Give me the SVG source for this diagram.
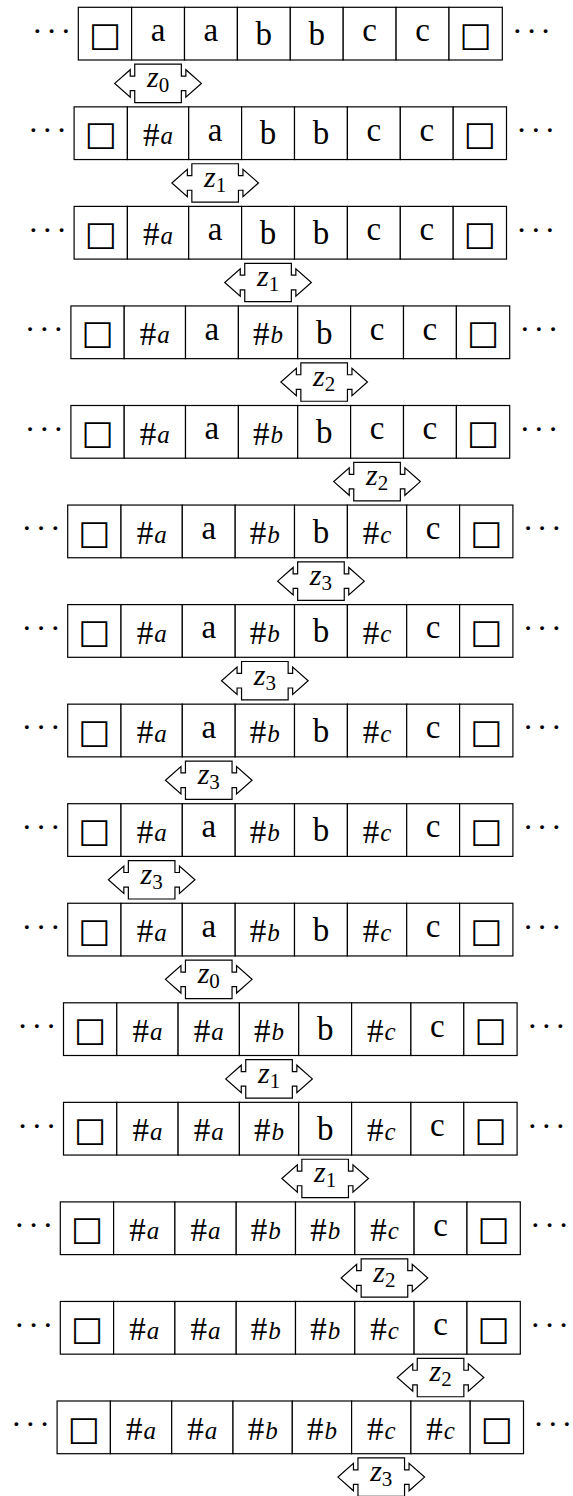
<svg xmlns="http://www.w3.org/2000/svg" xmlns:xlink="http://www.w3.org/1999/xlink" width="573" height="1496" viewBox="0 0 573 1496">
<style>
.cell{fill:#fff;stroke:#000;stroke-width:1.2}
.t{font-family:"Liberation Serif","DejaVu Serif",serif;font-size:33px;text-anchor:middle;fill:#000}
.sub{font-style:italic;font-size:25px}
.sq{font-family:"DejaVu Sans",sans-serif;font-size:34px}
.dots{font-family:"Liberation Serif","DejaVu Serif",serif;font-size:32px;fill:#000}
.lab{font-family:"Liberation Serif","DejaVu Serif",serif;font-style:italic;font-size:30px;text-anchor:middle;fill:#000}
.lsub{font-style:normal;font-size:21px}
</style>
<defs>
<!-- read/write head: box with a double arrow through its sides -->
<path id="headShape" fill="#fff" stroke="#000" stroke-width="1.2" stroke-linejoin="miter" d="M-23.3,-19.2H23.3V-7.3H27.8V-13.7L43.3,0L27.8,13.7V7.3H23.3V19.2H-23.3V7.3H-27.8V13.7L-43.3,0L-27.8,-13.7V-7.3H-23.3Z"/>
</defs>

<!-- tape 1 -->
<g id="tape-1" transform="translate(0 7.3)">
<text class="dots" x="32.1 46.3 60.5" y="34.35">···</text>
<g id="t1c1"><rect class="cell" x="78.3" y="0" width="53.3" height="52.7"/><text class="t sq" x="104.95" y="38.5">□</text></g>
<g id="t1c2"><rect class="cell" x="131.6" y="0" width="52.9" height="52.7"/><text class="t" x="158.05" y="33.75">a</text></g>
<g id="t1c3"><rect class="cell" x="184.5" y="0" width="52.9" height="52.7"/><text class="t" x="210.95" y="33.75">a</text></g>
<g id="t1c4"><rect class="cell" x="237.4" y="0" width="52.9" height="52.7"/><text class="t" x="263.85" y="37.6">b</text></g>
<g id="t1c5"><rect class="cell" x="290.3" y="0" width="52.9" height="52.7"/><text class="t" x="316.75" y="37.6">b</text></g>
<g id="t1c6"><rect class="cell" x="343.2" y="0" width="52.9" height="52.7"/><text class="t" x="369.65" y="33.75">c</text></g>
<g id="t1c7"><rect class="cell" x="396.1" y="0" width="52.9" height="52.7"/><text class="t" x="422.55" y="33.75">c</text></g>
<g id="t1c8"><rect class="cell" x="449.0" y="0" width="53.3" height="52.7"/><text class="t sq" x="475.65" y="38.5">□</text></g>
<text class="dots" x="512.1 526.2 540.3" y="34.35">···</text>
</g>

<!-- tape 2 -->
<g id="tape-2" transform="translate(0 106.85)">
<text class="dots" x="27.9 42.1 56.3" y="34.35">···</text>
<g id="t2c1"><rect class="cell" x="74.1" y="0" width="53.3" height="52.7"/><text class="t sq" x="100.75" y="38.5">□</text></g>
<g id="t2c2"><rect class="cell" x="127.4" y="0" width="61.3" height="52.7"/><text class="t" x="158.05" y="39">#<tspan class="sub" dx="1" dy="-1.5">a</tspan></text></g>
<g id="t2c3"><rect class="cell" x="188.7" y="0" width="52.9" height="52.7"/><text class="t" x="215.15" y="33.75">a</text></g>
<g id="t2c4"><rect class="cell" x="241.6" y="0" width="52.9" height="52.7"/><text class="t" x="268.05" y="37.6">b</text></g>
<g id="t2c5"><rect class="cell" x="294.5" y="0" width="52.9" height="52.7"/><text class="t" x="320.95" y="37.6">b</text></g>
<g id="t2c6"><rect class="cell" x="347.4" y="0" width="52.9" height="52.7"/><text class="t" x="373.85" y="33.75">c</text></g>
<g id="t2c7"><rect class="cell" x="400.3" y="0" width="52.9" height="52.7"/><text class="t" x="426.75" y="33.75">c</text></g>
<g id="t2c8"><rect class="cell" x="453.2" y="0" width="53.3" height="52.7"/><text class="t sq" x="479.85" y="38.5">□</text></g>
<text class="dots" x="516.3 530.4 544.5" y="34.35">···</text>
</g>

<!-- tape 3 -->
<g id="tape-3" transform="translate(0 206.4)">
<text class="dots" x="27.9 42.1 56.3" y="34.35">···</text>
<g id="t3c1"><rect class="cell" x="74.1" y="0" width="53.3" height="52.7"/><text class="t sq" x="100.75" y="38.5">□</text></g>
<g id="t3c2"><rect class="cell" x="127.4" y="0" width="61.3" height="52.7"/><text class="t" x="158.05" y="39">#<tspan class="sub" dx="1" dy="-1.5">a</tspan></text></g>
<g id="t3c3"><rect class="cell" x="188.7" y="0" width="52.9" height="52.7"/><text class="t" x="215.15" y="33.75">a</text></g>
<g id="t3c4"><rect class="cell" x="241.6" y="0" width="52.9" height="52.7"/><text class="t" x="268.05" y="37.6">b</text></g>
<g id="t3c5"><rect class="cell" x="294.5" y="0" width="52.9" height="52.7"/><text class="t" x="320.95" y="37.6">b</text></g>
<g id="t3c6"><rect class="cell" x="347.4" y="0" width="52.9" height="52.7"/><text class="t" x="373.85" y="33.75">c</text></g>
<g id="t3c7"><rect class="cell" x="400.3" y="0" width="52.9" height="52.7"/><text class="t" x="426.75" y="33.75">c</text></g>
<g id="t3c8"><rect class="cell" x="453.2" y="0" width="53.3" height="52.7"/><text class="t sq" x="479.85" y="38.5">□</text></g>
<text class="dots" x="516.3 530.4 544.5" y="34.35">···</text>
</g>

<!-- tape 4 -->
<g id="tape-4" transform="translate(0 305.95)">
<text class="dots" x="24.7 38.9 53.1" y="34.35">···</text>
<g id="t4c1"><rect class="cell" x="70.9" y="0" width="53.3" height="52.7"/><text class="t sq" x="97.55" y="38.5">□</text></g>
<g id="t4c2"><rect class="cell" x="124.2" y="0" width="61.3" height="52.7"/><text class="t" x="154.85" y="39">#<tspan class="sub" dx="1" dy="-1.5">a</tspan></text></g>
<g id="t4c3"><rect class="cell" x="185.5" y="0" width="52.9" height="52.7"/><text class="t" x="211.95" y="33.75">a</text></g>
<g id="t4c4"><rect class="cell" x="238.4" y="0" width="59.3" height="52.7"/><text class="t" x="268.05" y="39">#<tspan class="sub" dx="1" dy="-1.5">b</tspan></text></g>
<g id="t4c5"><rect class="cell" x="297.7" y="0" width="52.9" height="52.7"/><text class="t" x="324.15" y="37.6">b</text></g>
<g id="t4c6"><rect class="cell" x="350.6" y="0" width="52.9" height="52.7"/><text class="t" x="377.05" y="33.75">c</text></g>
<g id="t4c7"><rect class="cell" x="403.5" y="0" width="52.9" height="52.7"/><text class="t" x="429.95" y="33.75">c</text></g>
<g id="t4c8"><rect class="cell" x="456.4" y="0" width="53.3" height="52.7"/><text class="t sq" x="483.05" y="38.5">□</text></g>
<text class="dots" x="519.5 533.6 547.7" y="34.35">···</text>
</g>

<!-- tape 5 -->
<g id="tape-5" transform="translate(0 405.5)">
<text class="dots" x="24.7 38.9 53.1" y="34.35">···</text>
<g id="t5c1"><rect class="cell" x="70.9" y="0" width="53.3" height="52.7"/><text class="t sq" x="97.55" y="38.5">□</text></g>
<g id="t5c2"><rect class="cell" x="124.2" y="0" width="61.3" height="52.7"/><text class="t" x="154.85" y="39">#<tspan class="sub" dx="1" dy="-1.5">a</tspan></text></g>
<g id="t5c3"><rect class="cell" x="185.5" y="0" width="52.9" height="52.7"/><text class="t" x="211.95" y="33.75">a</text></g>
<g id="t5c4"><rect class="cell" x="238.4" y="0" width="59.3" height="52.7"/><text class="t" x="268.05" y="39">#<tspan class="sub" dx="1" dy="-1.5">b</tspan></text></g>
<g id="t5c5"><rect class="cell" x="297.7" y="0" width="52.9" height="52.7"/><text class="t" x="324.15" y="37.6">b</text></g>
<g id="t5c6"><rect class="cell" x="350.6" y="0" width="52.9" height="52.7"/><text class="t" x="377.05" y="33.75">c</text></g>
<g id="t5c7"><rect class="cell" x="403.5" y="0" width="52.9" height="52.7"/><text class="t" x="429.95" y="33.75">c</text></g>
<g id="t5c8"><rect class="cell" x="456.4" y="0" width="53.3" height="52.7"/><text class="t sq" x="483.05" y="38.5">□</text></g>
<text class="dots" x="519.5 533.6 547.7" y="34.35">···</text>
</g>

<!-- tapes 6 to 10 share one layout -->
<g id="tape-6" transform="translate(0 505.05)">
<text class="dots" x="21.5 35.7 49.9" y="34.35">···</text>
<g id="t6c1"><rect class="cell" x="67.7" y="0" width="53.3" height="52.7"/><text class="t sq" x="94.35" y="38.5">□</text></g>
<g id="t6c2"><rect class="cell" x="121.0" y="0" width="61.3" height="52.7"/><text class="t" x="151.65" y="39">#<tspan class="sub" dx="1" dy="-1.5">a</tspan></text></g>
<g id="t6c3"><rect class="cell" x="182.3" y="0" width="52.9" height="52.7"/><text class="t" x="208.75" y="33.75">a</text></g>
<g id="t6c4"><rect class="cell" x="235.2" y="0" width="59.3" height="52.7"/><text class="t" x="264.85" y="39">#<tspan class="sub" dx="1" dy="-1.5">b</tspan></text></g>
<g id="t6c5"><rect class="cell" x="294.5" y="0" width="52.9" height="52.7"/><text class="t" x="320.95" y="37.6">b</text></g>
<g id="t6c6"><rect class="cell" x="347.4" y="0" width="59.3" height="52.7"/><text class="t" x="377.05" y="39">#<tspan class="sub" dx="1" dy="-1.5">c</tspan></text></g>
<g id="t6c7"><rect class="cell" x="406.7" y="0" width="52.9" height="52.7"/><text class="t" x="433.15" y="33.75">c</text></g>
<g id="t6c8"><rect class="cell" x="459.6" y="0" width="53.3" height="52.7"/><text class="t sq" x="486.25" y="38.5">□</text></g>
<text class="dots" x="522.7 536.8 550.9" y="34.35">···</text>
</g>

<g id="tape-7" transform="translate(0 604.6)">
<text class="dots" x="21.5 35.7 49.9" y="34.35">···</text>
<g id="t7c1"><rect class="cell" x="67.7" y="0" width="53.3" height="52.7"/><text class="t sq" x="94.35" y="38.5">□</text></g>
<g id="t7c2"><rect class="cell" x="121.0" y="0" width="61.3" height="52.7"/><text class="t" x="151.65" y="39">#<tspan class="sub" dx="1" dy="-1.5">a</tspan></text></g>
<g id="t7c3"><rect class="cell" x="182.3" y="0" width="52.9" height="52.7"/><text class="t" x="208.75" y="33.75">a</text></g>
<g id="t7c4"><rect class="cell" x="235.2" y="0" width="59.3" height="52.7"/><text class="t" x="264.85" y="39">#<tspan class="sub" dx="1" dy="-1.5">b</tspan></text></g>
<g id="t7c5"><rect class="cell" x="294.5" y="0" width="52.9" height="52.7"/><text class="t" x="320.95" y="37.6">b</text></g>
<g id="t7c6"><rect class="cell" x="347.4" y="0" width="59.3" height="52.7"/><text class="t" x="377.05" y="39">#<tspan class="sub" dx="1" dy="-1.5">c</tspan></text></g>
<g id="t7c7"><rect class="cell" x="406.7" y="0" width="52.9" height="52.7"/><text class="t" x="433.15" y="33.75">c</text></g>
<g id="t7c8"><rect class="cell" x="459.6" y="0" width="53.3" height="52.7"/><text class="t sq" x="486.25" y="38.5">□</text></g>
<text class="dots" x="522.7 536.8 550.9" y="34.35">···</text>
</g>

<g id="tape-8" transform="translate(0 704.15)">
<text class="dots" x="21.5 35.7 49.9" y="34.35">···</text>
<g id="t8c1"><rect class="cell" x="67.7" y="0" width="53.3" height="52.7"/><text class="t sq" x="94.35" y="38.5">□</text></g>
<g id="t8c2"><rect class="cell" x="121.0" y="0" width="61.3" height="52.7"/><text class="t" x="151.65" y="39">#<tspan class="sub" dx="1" dy="-1.5">a</tspan></text></g>
<g id="t8c3"><rect class="cell" x="182.3" y="0" width="52.9" height="52.7"/><text class="t" x="208.75" y="33.75">a</text></g>
<g id="t8c4"><rect class="cell" x="235.2" y="0" width="59.3" height="52.7"/><text class="t" x="264.85" y="39">#<tspan class="sub" dx="1" dy="-1.5">b</tspan></text></g>
<g id="t8c5"><rect class="cell" x="294.5" y="0" width="52.9" height="52.7"/><text class="t" x="320.95" y="37.6">b</text></g>
<g id="t8c6"><rect class="cell" x="347.4" y="0" width="59.3" height="52.7"/><text class="t" x="377.05" y="39">#<tspan class="sub" dx="1" dy="-1.5">c</tspan></text></g>
<g id="t8c7"><rect class="cell" x="406.7" y="0" width="52.9" height="52.7"/><text class="t" x="433.15" y="33.75">c</text></g>
<g id="t8c8"><rect class="cell" x="459.6" y="0" width="53.3" height="52.7"/><text class="t sq" x="486.25" y="38.5">□</text></g>
<text class="dots" x="522.7 536.8 550.9" y="34.35">···</text>
</g>

<g id="tape-9" transform="translate(0 803.7)">
<text class="dots" x="21.5 35.7 49.9" y="34.35">···</text>
<g id="t9c1"><rect class="cell" x="67.7" y="0" width="53.3" height="52.7"/><text class="t sq" x="94.35" y="38.5">□</text></g>
<g id="t9c2"><rect class="cell" x="121.0" y="0" width="61.3" height="52.7"/><text class="t" x="151.65" y="39">#<tspan class="sub" dx="1" dy="-1.5">a</tspan></text></g>
<g id="t9c3"><rect class="cell" x="182.3" y="0" width="52.9" height="52.7"/><text class="t" x="208.75" y="33.75">a</text></g>
<g id="t9c4"><rect class="cell" x="235.2" y="0" width="59.3" height="52.7"/><text class="t" x="264.85" y="39">#<tspan class="sub" dx="1" dy="-1.5">b</tspan></text></g>
<g id="t9c5"><rect class="cell" x="294.5" y="0" width="52.9" height="52.7"/><text class="t" x="320.95" y="37.6">b</text></g>
<g id="t9c6"><rect class="cell" x="347.4" y="0" width="59.3" height="52.7"/><text class="t" x="377.05" y="39">#<tspan class="sub" dx="1" dy="-1.5">c</tspan></text></g>
<g id="t9c7"><rect class="cell" x="406.7" y="0" width="52.9" height="52.7"/><text class="t" x="433.15" y="33.75">c</text></g>
<g id="t9c8"><rect class="cell" x="459.6" y="0" width="53.3" height="52.7"/><text class="t sq" x="486.25" y="38.5">□</text></g>
<text class="dots" x="522.7 536.8 550.9" y="34.35">···</text>
</g>

<g id="tape-10" transform="translate(0 903.25)">
<text class="dots" x="21.5 35.7 49.9" y="34.35">···</text>
<g id="t10c1"><rect class="cell" x="67.7" y="0" width="53.3" height="52.7"/><text class="t sq" x="94.35" y="38.5">□</text></g>
<g id="t10c2"><rect class="cell" x="121.0" y="0" width="61.3" height="52.7"/><text class="t" x="151.65" y="39">#<tspan class="sub" dx="1" dy="-1.5">a</tspan></text></g>
<g id="t10c3"><rect class="cell" x="182.3" y="0" width="52.9" height="52.7"/><text class="t" x="208.75" y="33.75">a</text></g>
<g id="t10c4"><rect class="cell" x="235.2" y="0" width="59.3" height="52.7"/><text class="t" x="264.85" y="39">#<tspan class="sub" dx="1" dy="-1.5">b</tspan></text></g>
<g id="t10c5"><rect class="cell" x="294.5" y="0" width="52.9" height="52.7"/><text class="t" x="320.95" y="37.6">b</text></g>
<g id="t10c6"><rect class="cell" x="347.4" y="0" width="59.3" height="52.7"/><text class="t" x="377.05" y="39">#<tspan class="sub" dx="1" dy="-1.5">c</tspan></text></g>
<g id="t10c7"><rect class="cell" x="406.7" y="0" width="52.9" height="52.7"/><text class="t" x="433.15" y="33.75">c</text></g>
<g id="t10c8"><rect class="cell" x="459.6" y="0" width="53.3" height="52.7"/><text class="t sq" x="486.25" y="38.5">□</text></g>
<text class="dots" x="522.7 536.8 550.9" y="34.35">···</text>
</g>

<!-- tapes 11 and 12 -->
<g id="tape-11" transform="translate(0 1002.8)">
<text class="dots" x="17.3 31.5 45.7" y="34.35">···</text>
<g id="t11c1"><rect class="cell" x="63.5" y="0" width="53.3" height="52.7"/><text class="t sq" x="90.15" y="38.5">□</text></g>
<g id="t11c2"><rect class="cell" x="116.8" y="0" width="61.3" height="52.7"/><text class="t" x="147.45" y="39">#<tspan class="sub" dx="1" dy="-1.5">a</tspan></text></g>
<g id="t11c3"><rect class="cell" x="178.1" y="0" width="61.3" height="52.7"/><text class="t" x="208.75" y="39">#<tspan class="sub" dx="1" dy="-1.5">a</tspan></text></g>
<g id="t11c4"><rect class="cell" x="239.4" y="0" width="59.3" height="52.7"/><text class="t" x="269.05" y="39">#<tspan class="sub" dx="1" dy="-1.5">b</tspan></text></g>
<g id="t11c5"><rect class="cell" x="298.7" y="0" width="52.9" height="52.7"/><text class="t" x="325.15" y="37.6">b</text></g>
<g id="t11c6"><rect class="cell" x="351.6" y="0" width="59.3" height="52.7"/><text class="t" x="381.25" y="39">#<tspan class="sub" dx="1" dy="-1.5">c</tspan></text></g>
<g id="t11c7"><rect class="cell" x="410.9" y="0" width="52.9" height="52.7"/><text class="t" x="437.35" y="33.75">c</text></g>
<g id="t11c8"><rect class="cell" x="463.8" y="0" width="53.3" height="52.7"/><text class="t sq" x="490.45" y="38.5">□</text></g>
<text class="dots" x="526.9 541.0 555.1" y="34.35">···</text>
</g>

<g id="tape-12" transform="translate(0 1102.35)">
<text class="dots" x="17.3 31.5 45.7" y="34.35">···</text>
<g id="t12c1"><rect class="cell" x="63.5" y="0" width="53.3" height="52.7"/><text class="t sq" x="90.15" y="38.5">□</text></g>
<g id="t12c2"><rect class="cell" x="116.8" y="0" width="61.3" height="52.7"/><text class="t" x="147.45" y="39">#<tspan class="sub" dx="1" dy="-1.5">a</tspan></text></g>
<g id="t12c3"><rect class="cell" x="178.1" y="0" width="61.3" height="52.7"/><text class="t" x="208.75" y="39">#<tspan class="sub" dx="1" dy="-1.5">a</tspan></text></g>
<g id="t12c4"><rect class="cell" x="239.4" y="0" width="59.3" height="52.7"/><text class="t" x="269.05" y="39">#<tspan class="sub" dx="1" dy="-1.5">b</tspan></text></g>
<g id="t12c5"><rect class="cell" x="298.7" y="0" width="52.9" height="52.7"/><text class="t" x="325.15" y="37.6">b</text></g>
<g id="t12c6"><rect class="cell" x="351.6" y="0" width="59.3" height="52.7"/><text class="t" x="381.25" y="39">#<tspan class="sub" dx="1" dy="-1.5">c</tspan></text></g>
<g id="t12c7"><rect class="cell" x="410.9" y="0" width="52.9" height="52.7"/><text class="t" x="437.35" y="33.75">c</text></g>
<g id="t12c8"><rect class="cell" x="463.8" y="0" width="53.3" height="52.7"/><text class="t sq" x="490.45" y="38.5">□</text></g>
<text class="dots" x="526.9 541.0 555.1" y="34.35">···</text>
</g>

<!-- tapes 13 and 14 -->
<g id="tape-13" transform="translate(0 1201.9)">
<text class="dots" x="14.1 28.3 42.5" y="34.35">···</text>
<g id="t13c1"><rect class="cell" x="60.3" y="0" width="53.3" height="52.7"/><text class="t sq" x="86.95" y="38.5">□</text></g>
<g id="t13c2"><rect class="cell" x="113.6" y="0" width="61.3" height="52.7"/><text class="t" x="144.25" y="39">#<tspan class="sub" dx="1" dy="-1.5">a</tspan></text></g>
<g id="t13c3"><rect class="cell" x="174.9" y="0" width="61.3" height="52.7"/><text class="t" x="205.55" y="39">#<tspan class="sub" dx="1" dy="-1.5">a</tspan></text></g>
<g id="t13c4"><rect class="cell" x="236.2" y="0" width="59.3" height="52.7"/><text class="t" x="265.85" y="39">#<tspan class="sub" dx="1" dy="-1.5">b</tspan></text></g>
<g id="t13c5"><rect class="cell" x="295.5" y="0" width="59.3" height="52.7"/><text class="t" x="325.15" y="39">#<tspan class="sub" dx="1" dy="-1.5">b</tspan></text></g>
<g id="t13c6"><rect class="cell" x="354.8" y="0" width="59.3" height="52.7"/><text class="t" x="384.45" y="39">#<tspan class="sub" dx="1" dy="-1.5">c</tspan></text></g>
<g id="t13c7"><rect class="cell" x="414.1" y="0" width="52.9" height="52.7"/><text class="t" x="440.55" y="33.75">c</text></g>
<g id="t13c8"><rect class="cell" x="467.0" y="0" width="53.3" height="52.7"/><text class="t sq" x="493.65" y="38.5">□</text></g>
<text class="dots" x="530.1 544.2 558.3" y="34.35">···</text>
</g>

<g id="tape-14" transform="translate(0 1301.45)">
<text class="dots" x="14.1 28.3 42.5" y="34.35">···</text>
<g id="t14c1"><rect class="cell" x="60.3" y="0" width="53.3" height="52.7"/><text class="t sq" x="86.95" y="38.5">□</text></g>
<g id="t14c2"><rect class="cell" x="113.6" y="0" width="61.3" height="52.7"/><text class="t" x="144.25" y="39">#<tspan class="sub" dx="1" dy="-1.5">a</tspan></text></g>
<g id="t14c3"><rect class="cell" x="174.9" y="0" width="61.3" height="52.7"/><text class="t" x="205.55" y="39">#<tspan class="sub" dx="1" dy="-1.5">a</tspan></text></g>
<g id="t14c4"><rect class="cell" x="236.2" y="0" width="59.3" height="52.7"/><text class="t" x="265.85" y="39">#<tspan class="sub" dx="1" dy="-1.5">b</tspan></text></g>
<g id="t14c5"><rect class="cell" x="295.5" y="0" width="59.3" height="52.7"/><text class="t" x="325.15" y="39">#<tspan class="sub" dx="1" dy="-1.5">b</tspan></text></g>
<g id="t14c6"><rect class="cell" x="354.8" y="0" width="59.3" height="52.7"/><text class="t" x="384.45" y="39">#<tspan class="sub" dx="1" dy="-1.5">c</tspan></text></g>
<g id="t14c7"><rect class="cell" x="414.1" y="0" width="52.9" height="52.7"/><text class="t" x="440.55" y="33.75">c</text></g>
<g id="t14c8"><rect class="cell" x="467.0" y="0" width="53.3" height="52.7"/><text class="t sq" x="493.65" y="38.5">□</text></g>
<text class="dots" x="530.1 544.2 558.3" y="34.35">···</text>
</g>

<!-- tape 15 -->
<g id="tape-15" transform="translate(0 1401)">
<text class="dots" x="10.9 25.1 39.3" y="34.35">···</text>
<g id="t15c1"><rect class="cell" x="57.1" y="0" width="53.3" height="52.7"/><text class="t sq" x="83.75" y="38.5">□</text></g>
<g id="t15c2"><rect class="cell" x="110.4" y="0" width="61.3" height="52.7"/><text class="t" x="141.05" y="39">#<tspan class="sub" dx="1" dy="-1.5">a</tspan></text></g>
<g id="t15c3"><rect class="cell" x="171.7" y="0" width="61.3" height="52.7"/><text class="t" x="202.35" y="39">#<tspan class="sub" dx="1" dy="-1.5">a</tspan></text></g>
<g id="t15c4"><rect class="cell" x="233.0" y="0" width="59.3" height="52.7"/><text class="t" x="262.65" y="39">#<tspan class="sub" dx="1" dy="-1.5">b</tspan></text></g>
<g id="t15c5"><rect class="cell" x="292.3" y="0" width="59.3" height="52.7"/><text class="t" x="321.95" y="39">#<tspan class="sub" dx="1" dy="-1.5">b</tspan></text></g>
<g id="t15c6"><rect class="cell" x="351.6" y="0" width="59.3" height="52.7"/><text class="t" x="381.25" y="39">#<tspan class="sub" dx="1" dy="-1.5">c</tspan></text></g>
<g id="t15c7"><rect class="cell" x="410.9" y="0" width="59.3" height="52.7"/><text class="t" x="440.55" y="39">#<tspan class="sub" dx="1" dy="-1.5">c</tspan></text></g>
<g id="t15c8"><rect class="cell" x="470.2" y="0" width="53.3" height="52.7"/><text class="t sq" x="496.85" y="38.5">□</text></g>
<text class="dots" x="533.3 547.4 561.5" y="34.35">···</text>
</g>

<!-- heads, each centred under the cell it scans -->
<g id="head-1" transform="translate(158.05 83.4)"><use href="#headShape" xlink:href="#headShape"/><text class="lab" x="0" y="3.8">z<tspan class="lsub" dy="5">0</tspan></text></g>
<g id="head-2" transform="translate(215.15 182.95)"><use href="#headShape" xlink:href="#headShape"/><text class="lab" x="0" y="3.8">z<tspan class="lsub" dy="5">1</tspan></text></g>
<g id="head-3" transform="translate(268.05 282.5)"><use href="#headShape" xlink:href="#headShape"/><text class="lab" x="0" y="3.8">z<tspan class="lsub" dy="5">1</tspan></text></g>
<g id="head-4" transform="translate(324.15 382.05)"><use href="#headShape" xlink:href="#headShape"/><text class="lab" x="0" y="3.8">z<tspan class="lsub" dy="5">2</tspan></text></g>
<g id="head-5" transform="translate(377.05 481.6)"><use href="#headShape" xlink:href="#headShape"/><text class="lab" x="0" y="3.8">z<tspan class="lsub" dy="5">2</tspan></text></g>
<g id="head-6" transform="translate(320.95 581.15)"><use href="#headShape" xlink:href="#headShape"/><text class="lab" x="0" y="3.8">z<tspan class="lsub" dy="5">3</tspan></text></g>
<g id="head-7" transform="translate(264.85 680.7)"><use href="#headShape" xlink:href="#headShape"/><text class="lab" x="0" y="3.8">z<tspan class="lsub" dy="5">3</tspan></text></g>
<g id="head-8" transform="translate(208.75 780.25)"><use href="#headShape" xlink:href="#headShape"/><text class="lab" x="0" y="3.8">z<tspan class="lsub" dy="5">3</tspan></text></g>
<g id="head-9" transform="translate(151.65 879.8)"><use href="#headShape" xlink:href="#headShape"/><text class="lab" x="0" y="3.8">z<tspan class="lsub" dy="5">3</tspan></text></g>
<g id="head-10" transform="translate(208.75 979.35)"><use href="#headShape" xlink:href="#headShape"/><text class="lab" x="0" y="3.8">z<tspan class="lsub" dy="5">0</tspan></text></g>
<g id="head-11" transform="translate(269.05 1078.9)"><use href="#headShape" xlink:href="#headShape"/><text class="lab" x="0" y="3.8">z<tspan class="lsub" dy="5">1</tspan></text></g>
<g id="head-12" transform="translate(325.15 1178.45)"><use href="#headShape" xlink:href="#headShape"/><text class="lab" x="0" y="3.8">z<tspan class="lsub" dy="5">1</tspan></text></g>
<g id="head-13" transform="translate(384.45 1278)"><use href="#headShape" xlink:href="#headShape"/><text class="lab" x="0" y="3.8">z<tspan class="lsub" dy="5">2</tspan></text></g>
<g id="head-14" transform="translate(440.55 1377.55)"><use href="#headShape" xlink:href="#headShape"/><text class="lab" x="0" y="3.8">z<tspan class="lsub" dy="5">2</tspan></text></g>
<g id="head-15" transform="translate(381.25 1477.1)"><use href="#headShape" xlink:href="#headShape"/><text class="lab" x="0" y="3.8">z<tspan class="lsub" dy="5">3</tspan></text></g>
</svg>
